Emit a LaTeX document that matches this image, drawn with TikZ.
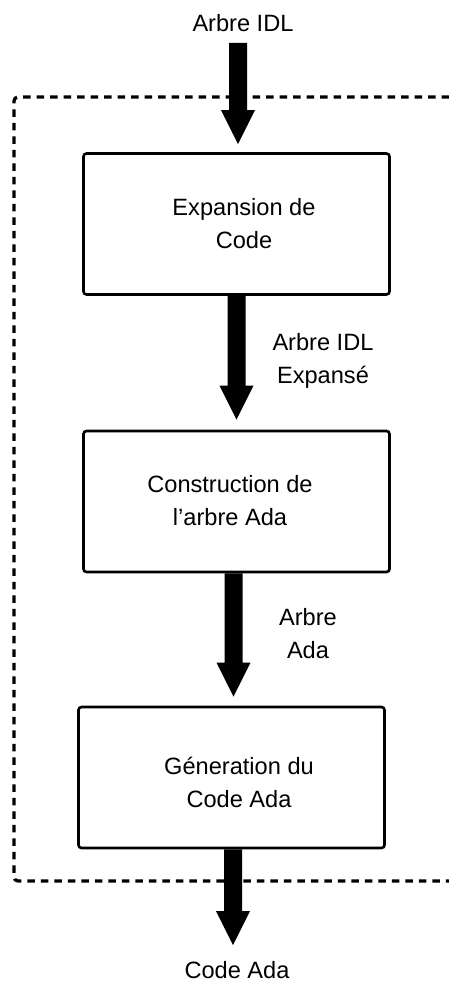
\documentclass[tikz,border=0pt]{standalone}
\usepackage{fontspec}
\setmainfont{Liberation Sans}
\usetikzlibrary{calc}

\tikzset{
  stagebox/.style={draw, line width=2.6pt, rounded corners=3pt,
    minimum width=306pt, minimum height=141pt, inner sep=0pt},
  txt/.style={align=center, inner sep=0pt,
    font=\fontsize{23.6}{33}\selectfont},
  frame/.style={line width=3.3pt, dash pattern=on 7.5pt off 6pt,
    rounded corners=4pt},
}

% block arrow from the point #1 down to its tip at #2
\newcommand\blockarrow[2]{%
  \fill let \p1=(#1), \p2=(#2) in
    (\x2-9pt,\y1) -- (\x2+9pt,\y1) -- (\x2+9pt,\y2+34pt)
    -- (\x2+17pt,\y2+34pt) -- (\x2,\y2) -- (\x2-17pt,\y2+34pt)
    -- (\x2-9pt,\y2+34pt) -- cycle;}

\begin{document}
\begin{tikzpicture}[x=1pt,y=-1pt]
  \useasboundingbox (0,0) rectangle (449,982);

  % dashed boundary of the compiler, open on the right
  \draw[frame] (449,97) -- (14,97) -- (14,881) -- (449,881);

  % processing stages
  \node[stagebox] (b1) at (236.5,224) {};
  \node[stagebox] (b2) at (236.5,501.5) {};
  \node[stagebox] (b3) at (231.5,777.5) {};

  \node[txt] (t1) at (244,224) {Expansion de\\Code};
  \node[txt] (t2) at (230,501) {Construction de\\l’arbre Ada};
  \node[txt] (t3) at (239,782) {Géneration du\\Code Ada};

  % input and output
  \node[txt] (in) at (243,23) {Arbre IDL};
  \node[txt] (out) at (237,970) {Code Ada};
  \coordinate (inA) at (238,43);
  \coordinate (outA) at (233,945);

  % flow between the stages
  \blockarrow{inA}{$(b1.north)+(1.5,-8)$}
  \blockarrow{b1.south}{$(b2.north)+(0,-10)$}
  \blockarrow{b2.south}{$(b3.north)+(2,-9)$}
  \blockarrow{b3.south}{outA}

  % intermediate representations
  \node[txt] (l1) at (323,361) {Arbre IDL\\Expansé};
  \node[txt] (l2) at (308,633.5) {Arbre\\Ada};
\end{tikzpicture}
\end{document}
